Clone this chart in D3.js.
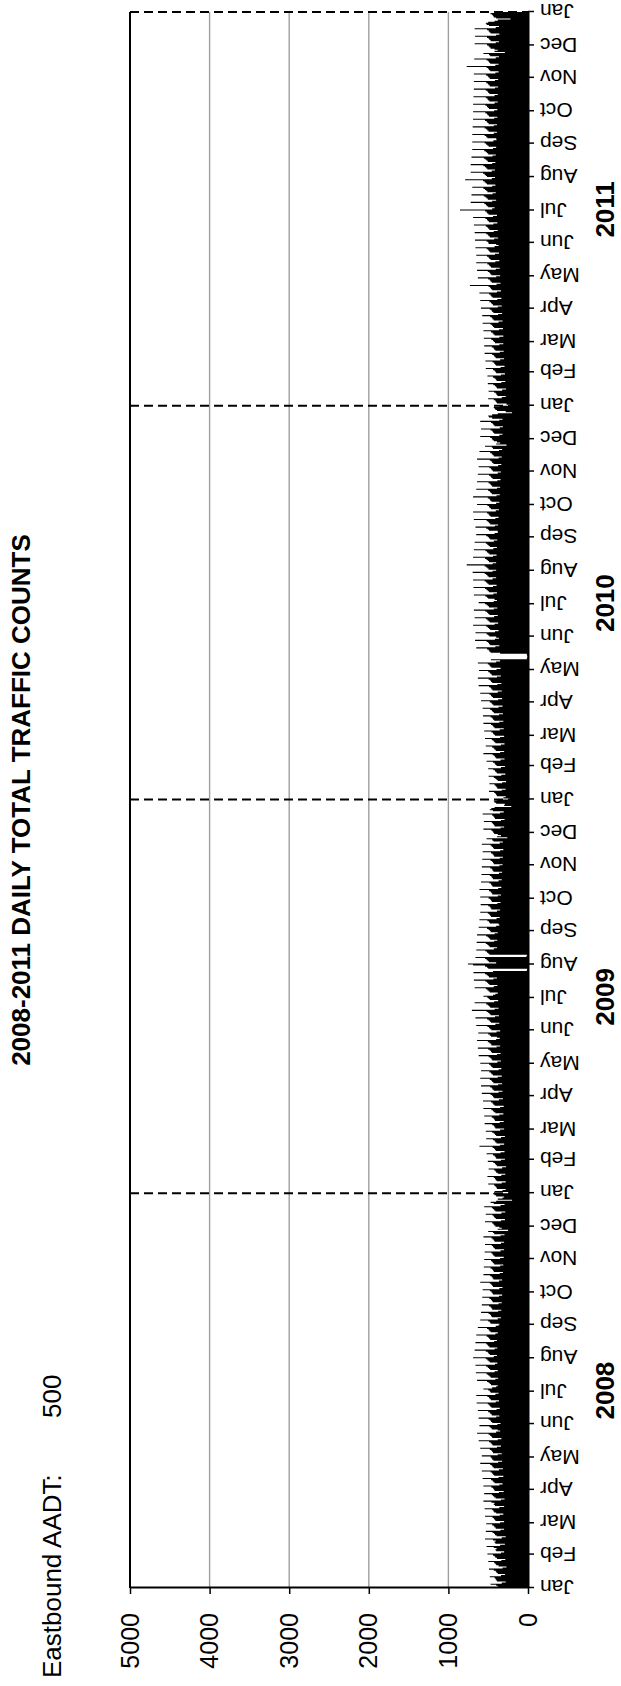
<!DOCTYPE html>
<html><head><meta charset="utf-8">
<script src="https://cdn.jsdelivr.net/npm/d3@7"></script>
<style>html,body{margin:0;padding:0;background:#fff}svg{display:block}</style>
</head><body>
<script>
const monthLabels = ["Jan","Feb","Mar","Apr","May","Jun","Jul","Aug","Sep","Oct","Nov","Dec"];
const yearLabels = ["2008","2009","2010","2011"];
const valueTicks = [0,1000,2000,3000,4000,5000];
const gridValues = [1000,2000,3000,4000];
const titleText = "2008-2011 DAILY TOTAL TRAFFIC COUNTS";
const aadtLabel = "Eastbound AADT:";
const aadtValue = "500";

// daily totals, one value per day starting Jan 1 of each year
const daily2008 = [
250,380,400,470,330,280,390,400,410,420,480,340,290,380,395,405,430,490,320,270,370,400,410,425,500,335,285,390,410,420,440,
510,340,300,400,410,395,430,520,350,290,410,420,405,440,540,330,280,395,415,425,445,530,345,300,405,420,430,450,525,
350,300,410,420,430,445,540,355,310,400,425,435,450,545,360,300,415,430,420,460,560,340,295,405,425,440,455,550,365,305,420,
430,440,460,560,360,320,420,435,445,465,570,370,310,425,440,450,470,580,365,315,430,445,455,475,600,375,325,435,450,460,
470,580,380,330,440,450,460,480,600,390,340,445,455,470,490,620,380,335,450,460,475,495,640,400,350,380,455,470,485,610,385,
345,450,465,475,495,620,400,360,455,470,480,500,630,395,355,460,475,485,505,645,405,365,465,480,490,510,650,410,370,470,
480,500,560,450,400,380,465,480,495,515,640,410,375,470,485,500,520,655,420,380,475,490,505,525,660,415,385,480,495,510,530,
690,430,390,480,495,505,530,670,420,385,485,500,510,525,660,425,390,475,490,500,520,650,410,380,470,485,495,515,630,405,370,
360,470,480,500,600,380,340,455,465,475,495,590,375,335,450,460,470,490,580,370,330,445,455,465,485,575,365,325,440,450,
460,480,570,360,320,440,450,460,480,600,365,325,435,445,455,475,560,355,315,430,440,450,470,555,350,310,425,440,450,465,550,
350,305,420,435,445,460,545,345,300,415,430,440,455,540,340,300,420,430,445,460,560,345,295,425,440,500,250,380,330,360,
410,425,435,450,540,340,290,405,420,430,445,530,335,285,410,425,440,455,550,345,295,430,470,400,200,380,320,300,400,420,440
];
const daily2009 = [
240,420,320,280,390,400,410,425,500,330,280,395,405,415,430,510,335,285,380,400,410,425,495,325,275,390,405,415,435,505,340,
290,400,410,420,440,520,345,295,405,415,425,445,610,350,300,395,410,420,440,525,340,290,400,415,430,450,530,350,
300,410,420,430,450,545,355,305,415,425,435,455,550,360,310,410,430,440,460,560,350,305,420,435,445,465,565,365,315,425,440,
450,470,580,370,320,430,445,455,475,590,375,325,435,450,460,480,600,380,330,440,455,465,485,590,370,335,445,460,470,490,
600,385,340,450,460,475,495,620,390,345,455,465,480,500,630,395,350,460,470,485,505,640,400,355,390,465,480,500,625,395,350,
460,475,490,510,650,410,360,465,480,495,515,660,415,365,470,485,500,520,705,420,370,475,490,505,525,670,425,375,480,495,
510,560,440,410,380,480,495,510,530,670,430,385,485,500,515,535,680,435,390,490,505,520,540,685,440,15,10,500,515,540,690,
755,400,490,505,520,540,660,20,10,485,500,515,535,650,430,390,480,495,510,530,645,425,385,475,490,505,525,640,420,380,470,
480,495,515,620,400,360,370,480,490,510,610,395,355,465,475,485,505,600,390,350,460,470,480,500,595,385,345,455,465,475,
495,600,380,340,450,460,470,490,610,375,335,445,455,465,485,590,370,330,440,450,460,480,585,365,325,435,445,455,475,580,360,
320,430,440,450,470,575,355,315,425,435,445,465,570,350,310,430,440,455,470,580,355,315,435,450,520,260,390,340,380,425,
435,445,460,560,345,300,420,430,440,455,555,340,295,415,425,435,450,570,350,305,440,480,460,420,210,300,290,400,420,430,390
];
const daily2010 = [
230,310,280,390,400,410,425,490,330,280,385,395,405,420,485,325,275,380,395,410,430,495,335,285,390,405,415,435,500,340,290,
395,410,420,440,520,345,295,400,415,425,445,560,350,300,405,420,430,450,530,340,295,410,425,435,455,540,350,300,
415,430,440,460,550,355,305,420,435,445,465,560,360,310,425,440,450,470,565,365,315,430,445,455,475,570,370,320,435,450,460,
480,590,375,325,440,455,465,485,600,380,330,445,460,470,490,620,385,335,450,465,475,495,630,390,340,455,470,480,500,615,
395,345,460,475,485,505,630,400,350,465,15,10,5,10,15,350,470,485,495,515,650,410,360,475,490,500,520,665,415,365,400,
485,500,520,660,415,370,475,490,505,525,690,420,375,480,495,510,530,670,425,380,485,500,515,535,680,430,385,490,505,520,
540,620,430,390,420,500,515,535,680,435,390,490,505,520,540,685,440,395,495,510,525,545,690,445,400,495,510,525,545,695,445,
400,495,510,525,545,770,445,400,490,505,520,540,690,440,395,485,500,515,535,680,435,390,480,495,510,530,670,430,385,475,490,
505,525,650,420,380,380,490,505,525,660,415,375,475,490,500,520,680,410,370,470,485,495,515,690,405,365,465,480,490,510,
640,400,360,460,475,485,505,690,395,355,455,470,480,500,650,390,350,450,465,475,495,640,385,345,445,460,470,490,630,380,340,
440,455,465,485,620,375,335,435,450,460,480,640,370,330,430,445,455,475,610,365,325,440,455,540,270,400,350,390,430,445,
455,475,600,360,320,425,440,450,470,590,355,315,420,435,445,465,600,360,320,450,490,500,450,380,200,280,390,410,420,430,360
];
const daily2011 = [
220,270,390,400,410,430,500,330,280,385,395,405,425,495,325,275,390,400,415,435,505,335,285,395,405,420,440,510,340,290,400,
410,420,440,530,345,295,400,415,425,445,535,350,300,405,420,430,450,545,355,305,410,425,435,455,550,360,310,415,
430,440,460,555,360,310,420,435,445,465,560,365,315,425,440,450,470,570,370,320,430,445,455,475,575,375,325,435,450,460,480,
590,380,330,440,455,465,485,600,385,335,445,460,470,490,610,390,340,450,465,475,495,730,395,345,455,470,480,500,630,400,
350,460,475,485,505,640,405,355,465,480,490,510,650,410,360,470,485,495,515,650,415,365,475,490,500,520,660,420,370,400,495,
500,520,665,425,375,480,495,505,525,670,430,380,485,500,510,530,680,435,385,490,505,515,535,690,440,390,495,510,520,540,
855,450,420,500,520,530,550,720,450,400,505,520,535,555,710,445,405,510,525,540,560,700,450,410,515,530,545,565,790,455,415,
515,530,545,565,720,455,415,510,525,540,560,720,450,410,505,520,535,555,710,445,405,500,515,530,550,700,440,400,495,510,525,
545,700,435,395,400,510,525,545,700,430,390,495,510,525,545,695,430,390,495,510,520,540,690,425,385,490,505,515,535,690,
425,385,490,505,515,535,690,420,380,485,500,510,530,685,420,380,485,500,510,530,680,415,375,480,495,505,525,680,415,375,480,
495,505,525,680,410,370,475,490,500,520,770,410,370,475,490,500,520,675,405,365,475,490,560,290,420,380,420,470,485,495,
515,670,405,365,470,485,495,515,665,400,360,470,485,495,515,670,405,365,490,520,530,500,420,380,220,400,430,440,450,470,380
];

const yearly = [[2008,daily2008],[2009,daily2009],[2010,daily2010],[2011,daily2011]];
const series = [];
yearly.forEach(([yr,arr]) => arr.forEach((v,i) => series.push({date:new Date(yr,0,1+i), v})));
series.push({date:new Date(2012,0,1), v:series[series.length-1].v});

const W = 621, H = 1686;
const FONT = "'Liberation Sans', Arial, Helvetica, sans-serif";
const svg = d3.select("body").append("svg").attr("width",W).attr("height",H);
svg.append("rect").attr("width",W).attr("height",H).attr("fill","#fff");

// Chart is built in landscape orientation and rotated -90deg onto the page
const g = svg.append("g").attr("transform",`translate(0,${H}) rotate(-90)`)
  .style("font-family",FONT);

const x = d3.scaleTime().domain([new Date(2008,0,1), new Date(2012,0,1)]).range([98,1674]);
const y = d3.scaleLinear().domain([0,5000]).range([528,130]);

// gridlines
g.selectAll("line.grid").data(gridValues).join("line").attr("class","grid")
  .attr("x1",x.range()[0]).attr("x2",x.range()[1])
  .attr("y1",d=>y(d)).attr("y2",d=>y(d))
  .attr("stroke","#a0a0a0").attr("stroke-width",1.4);

// plot top border (5000 line)
g.append("line").attr("x1",x.range()[0]).attr("x2",x.range()[1])
  .attr("y1",y(5000)).attr("y2",y(5000)).attr("stroke","#000").attr("stroke-width",2);

// year separators
const yearStarts = [new Date(2009,0,1), new Date(2010,0,1), new Date(2011,0,1), new Date(2012,0,1)];
g.selectAll("line.yr").data(yearStarts).join("line").attr("class","yr")
  .attr("x1",d=>x(d)).attr("x2",d=>x(d))
  .attr("y1",y(5000)).attr("y2",y(0))
  .attr("stroke","#000").attr("stroke-width",2).attr("stroke-dasharray","9,5");

// daily data
const area = d3.area().x(d=>x(d.date)).y0(y(0)).y1(d=>y(d.v)).curve(d3.curveStepAfter);
g.append("path").datum(series).attr("d",area).attr("fill","#000");

// value axis
const ya = g.append("g").attr("transform",`translate(${x.range()[0]},0)`)
  .call(d3.axisLeft(y).tickValues(valueTicks).tickSize(6).tickSizeOuter(0).tickPadding(19).tickFormat(d3.format("d")));
ya.select(".domain").attr("stroke","#000").attr("stroke-width",2);
ya.selectAll(".tick line").attr("stroke","#000").attr("stroke-width",1.5);
ya.selectAll(".tick text").attr("fill","#000").style("font-size","25px").style("font-family",FONT);

// date axis
const monthTicks = d3.timeMonth.range(new Date(2008,0,1), new Date(2012,0,2));
const xa = g.append("g").attr("transform",`translate(0,${y(0)})`)
  .call(d3.axisBottom(x).tickValues(monthTicks).tickSize(6).tickSizeOuter(0).tickFormat(d=>monthLabels[d.getMonth()]));
xa.select(".domain").attr("stroke","#000").attr("stroke-width",2);
xa.selectAll(".tick line").attr("stroke","#000").attr("stroke-width",1.5);
xa.selectAll(".tick text").attr("x",0).attr("y",0).attr("dy","0.35em")
  .attr("transform","translate(0,12) rotate(-90)").attr("text-anchor","end")
  .attr("fill","#000").style("font-size","21px").style("font-family",FONT);

// year labels
g.selectAll("text.year").data(yearLabels).join("text").attr("class","year")
  .attr("x",d=>x(new Date(+d,6,2))).attr("y",614).attr("text-anchor","middle")
  .style("font-size","26px").style("font-weight","bold").text(d=>d);

// title
g.append("text").attr("x",(x.range()[0]+x.range()[1])/2).attr("y",30)
  .attr("text-anchor","middle").style("font-size","26px").style("font-weight","bold").text(titleText);

// AADT note
g.append("text").attr("x",8).attr("y",61).style("font-size","26px").text(aadtLabel);
g.append("text").attr("x",268).attr("y",61).style("font-size","26px").text(aadtValue);
</script>
</body></html>
